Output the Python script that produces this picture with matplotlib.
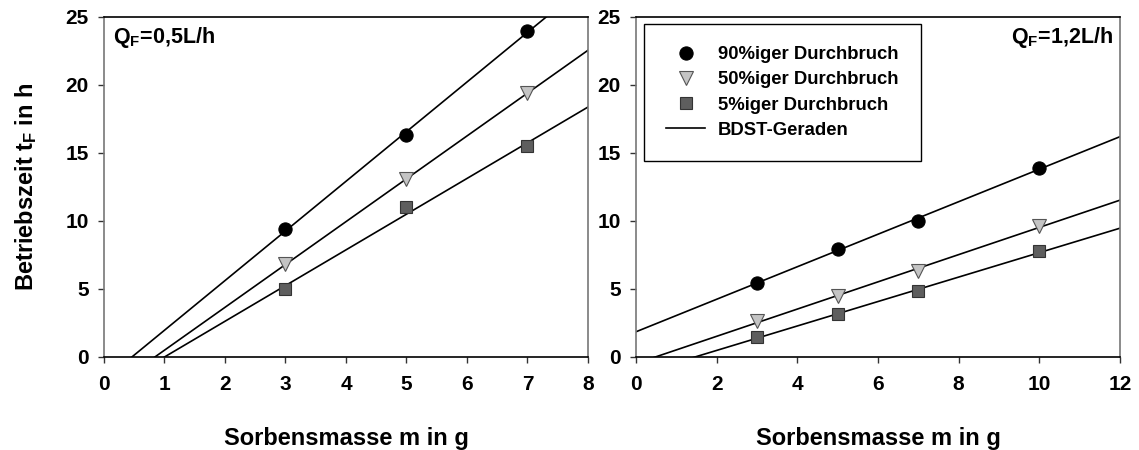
import numpy as np
import matplotlib
matplotlib.use("Agg")
import matplotlib.pyplot as plt

plt.rcParams["font.family"] = ["Liberation Sans", "DejaVu Sans"]
plt.rcParams["font.weight"] = "bold"
plt.rcParams["mathtext.fontset"] = "custom"
plt.rcParams["mathtext.rm"] = "Liberation Sans:bold"
plt.rcParams["mathtext.bf"] = "Liberation Sans:bold"
plt.rcParams["mathtext.it"] = "Liberation Sans:bold"

# Operating time (h) vs. sorbent mass (g), two feed flow rates
mass_low = [3, 5, 7]
t90_low = [9.4, 16.3, 24.0]
t50_low = [6.8, 13.1, 19.4]
t5_low = [5.0, 11.0, 15.5]

mass_high = [3, 5, 7, 10]
t90_high = [5.45, 7.95, 10.0, 13.9]
t50_high = [2.65, 4.45, 6.35, 9.65]
t5_high = [1.47, 3.15, 4.82, 7.77]

series_labels = ["90%iger Durchbruch", "50%iger Durchbruch", "5%iger Durchbruch"]
line_label = "BDST-Geraden"
flow_labels = [r"Q$_\mathbf{F}$=0,5L/h", r"Q$_\mathbf{F}$=1,2L/h"]
x_label = "Sorbensmasse m in g"
y_label = r"Betriebszeit t$_\mathbf{F}$ in h"
x_limits = [8, 12]
x_steps = [1, 2]

styles = [
    dict(marker="o", ms=9.5, mfc="black", mec="black"),
    dict(marker="v", ms=10, mfc="#c4c4c4", mec="#555555"),
    dict(marker="s", ms=8.5, mfc="#5e5e5e", mec="#333333"),
]

fig = plt.figure(figsize=(11.39, 4.5), dpi=100)
ax_l = fig.add_axes([0.0913, 0.2067, 0.4249, 0.7556])
ax_r = fig.add_axes([0.5584, 0.2067, 0.4249, 0.7556])

panels = [
    (ax_l, mass_low, [t90_low, t50_low, t5_low], flow_labels[0], x_limits[0], x_steps[0]),
    (ax_r, mass_high, [t90_high, t50_high, t5_high], flow_labels[1], x_limits[1], x_steps[1]),
]

for i, (ax, mass, groups, flow, xmax, step) in enumerate(panels):
    xs = np.array([0.0, xmax])
    for vals, st, lab in zip(groups, styles, series_labels):
        k, d = np.polyfit(mass, vals, 1)
        ax.plot(xs, k * xs + d, color="black", lw=1.2, zorder=2)
        ax.plot(mass, vals, ls="none", mew=0.8, zorder=3, label=lab, **st)
    ax.set_xlim(0, xmax)
    ax.set_ylim(0, 25)
    ax.set_xticks(np.arange(0, xmax + 0.1, step))
    ax.set_yticks(np.arange(0, 26, 5))
    ax.tick_params(axis="both", direction="out", length=4, width=1,
                   color="#333333", labelsize=15)
    ax.tick_params(axis="x", pad=9)
    ax.tick_params(axis="y", pad=7)
    for lbl in ax.get_xticklabels() + ax.get_yticklabels():
        lbl.set_fontweight("bold")
    for side in ("left", "right"):
        ax.spines[side].set_color("#777777")
        ax.spines[side].set_linewidth(1.2)
    for side in ("top", "bottom"):
        ax.spines[side].set_color("black")
        ax.spines[side].set_linewidth(1.2)
    ax.set_xlabel(x_label, fontsize=17, fontweight="bold", labelpad=24)
    if i == 0:
        ax.set_ylabel(y_label, fontsize=17, fontweight="bold", labelpad=19)
        ax.text(0.018, 0.94, flow, transform=ax.transAxes, fontsize=15.5,
                fontweight="bold", ha="left", va="center")
    else:
        ax.text(0.985, 0.94, flow, transform=ax.transAxes, fontsize=15.5,
                fontweight="bold", ha="right", va="center")

handles, labels = ax_r.get_legend_handles_labels()
handles.append(plt.Line2D([], [], color="black", lw=1.2))
labels.append(line_label)
leg = ax_r.legend(handles, labels, loc="upper left", bbox_to_anchor=(0.0165, 0.979),
                  borderaxespad=0, frameon=True, fancybox=False, edgecolor="black",
                  framealpha=1, prop=dict(weight="bold", size=13.3),
                  handlelength=2.1, handletextpad=0.7, borderpad=1.2,
                  labelspacing=0.44, numpoints=1)
leg.get_frame().set_linewidth(1.0)

fig.savefig("out.png", dpi=100)
